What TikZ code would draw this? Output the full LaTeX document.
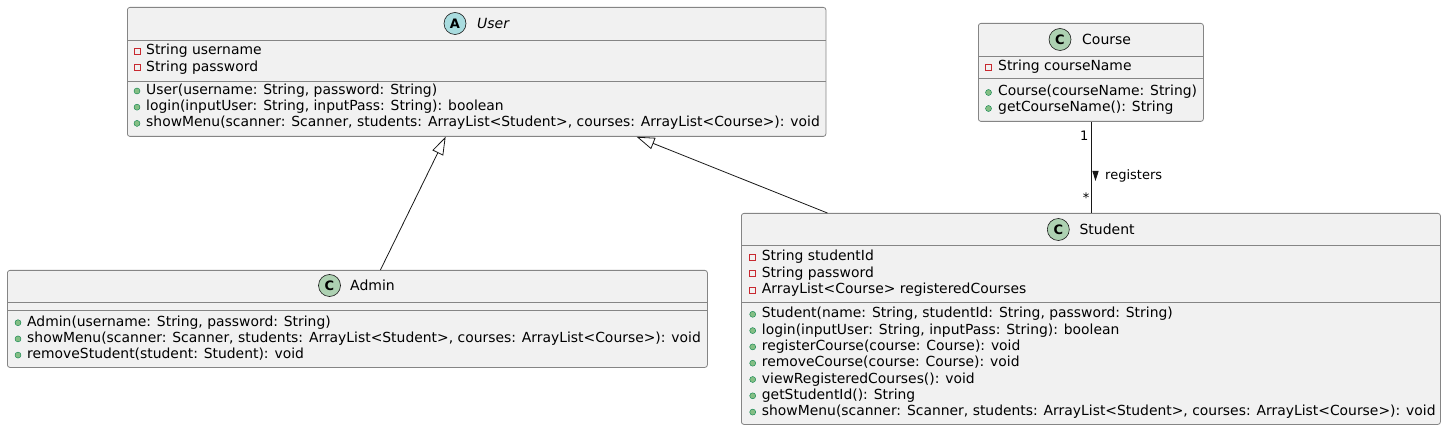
\documentclass[tikz,border=0pt]{standalone}
\usepackage{fontspec}
\setmainfont{DejaVu Sans}
\usetikzlibrary{arrows.meta}

\definecolor{boxfill}{HTML}{F1F1F1}
\definecolor{boxline}{HTML}{181818}
\definecolor{edgegray}{HTML}{858585}
\definecolor{cgreen}{HTML}{ADD1B2}
\definecolor{acyan}{HTML}{A9DCDF}
\definecolor{privred}{HTML}{C82930}
\definecolor{pubfill}{HTML}{84BE84}
\definecolor{publine}{HTML}{038048}

\begin{document}
\begin{tikzpicture}[x=1pt, y=-1pt,
    box/.style={draw=edgegray, fill=boxfill, line width=0.8pt, rounded corners=2.5pt, anchor=north west, inner sep=0},
    sep/.style={draw=edgegray, line width=0.8pt},
    badge/.style={circle, draw=boxline, line width=0.6pt, minimum size=22pt, inner sep=0, font=\fontsize{13}{13}\selectfont\bfseries},
    cname/.style={anchor=west, inner sep=0, font=\fontsize{14}{14}\selectfont},
    member/.style={anchor=west, inner sep=0, text height=10pt, text depth=3pt, font=\fontsize{13.9}{14}\selectfont},
    priv/.style={rectangle, draw=privred, line width=0.6pt, minimum size=6pt, inner sep=0},
    pub/.style={circle, draw=publine, fill=pubfill, line width=0.4pt, minimum size=6pt, inner sep=0},
    mult/.style={inner sep=0, font=\fontsize{13}{13}\selectfont},
    link/.style={draw=boxline, line width=0.8pt},
    gen/.style={link, -{Triangle[open, length=18pt, width=12pt]}}]

\useasboundingbox (0,0) rectangle (1446,430);

% User (abstract)
\node[box, minimum width=698.5, minimum height=129] (User) at (127,7) {};
\node[badge, fill=acyan] (UserBadge) at (455,23.5) {A};
\node[cname, font=\fontsize{14}{14}\selectfont\itshape] (UserName) at (477,23.5) {User};
\draw[sep] (127,40) -- (825.5,40);
\draw[sep] (127,81) -- (825.5,81);
\foreach \t [count=\i from 0] in {String username, String password}
{
    \node[priv] (uav\i) at (137,51.5+16.2*\i) {};
    \node[member] (ua\i) at (146,51.5+16.2*\i) {\t};
}
\foreach \t [count=\i from 0] in {{User(username: String, password: String)},
    {login(inputUser: String, inputPass: String): boolean},
    {showMenu(scanner: Scanner, students: ArrayList<Student>, courses: ArrayList<Course>): void}}
{
    \node[pub] (umv\i) at (137,91+16.2*\i) {};
    \node[member] (um\i) at (146,91+16.2*\i) {\t};
}

% Admin
\node[box, minimum width=700, minimum height=97] (Admin) at (7,270) {};
\node[badge, fill=cgreen] (AdminBadge) at (329.5,285.5) {C};
\node[cname] (AdminName) at (350,285.5) {Admin};
\draw[sep] (7,302) -- (707,302);
\draw[sep] (7,310.5) -- (707,310.5);
\foreach \t [count=\i from 0] in {{Admin(username: String, password: String)},
    {showMenu(scanner: Scanner, students: ArrayList<Student>, courses: ArrayList<Course>): void},
    {removeStudent(student: Student): void}}
{
    \node[pub] (amv\i) at (18,322.7+16.2*\i) {};
    \node[member] (am\i) at (27,322.7+16.2*\i) {\t};
}

% Course
\node[box, minimum width=225, minimum height=98] (Course) at (978,23) {};
\node[badge, fill=cgreen] (CourseBadge) at (1060,39.5) {C};
\node[cname] (CourseName) at (1082,39.5) {Course};
\draw[sep] (978,56) -- (1203,56);
\draw[sep] (978,78.5) -- (1203,78.5);
\node[priv] (cav0) at (988.5,67.3) {};
\node[member] (ca0) at (998,67.3) {String courseName};
\foreach \t [count=\i from 0] in {{Course(courseName: String)}, {getCourseName(): String}}
{
    \node[pub] (cmv\i) at (988.5,92.5+16*\i) {};
    \node[member] (cm\i) at (998,92.5+16*\i) {\t};
}

% Student
\node[box, minimum width=699, minimum height=211] (Student) at (741,213) {};
\node[badge, fill=cgreen] (StudentBadge) at (1058.3,229.5) {C};
\node[cname] (StudentName) at (1079.3,229.5) {Student};
\draw[sep] (741,245.7) -- (1440,245.7);
\draw[sep] (741,302) -- (1440,302);
\foreach \t [count=\i from 0] in {String studentId, String password, ArrayList<Course> registeredCourses}
{
    \node[priv] (sav\i) at (752.7,257.5+16.3*\i) {};
    \node[member] (sa\i) at (761.7,257.5+16.3*\i) {\t};
}
\foreach \t [count=\i from 0] in {{Student(name: String, studentId: String, password: String)},
    {login(inputUser: String, inputPass: String): boolean},
    {registerCourse(course: Course): void},
    {removeCourse(course: Course): void},
    {viewRegisteredCourses(): void},
    {getStudentId(): String},
    {showMenu(scanner: Scanner, students: ArrayList<Student>, courses: ArrayList<Course>): void}}
{
    \node[pub] (smv\i) at (752.7,314.3+16.3*\i) {};
    \node[member] (sm\i) at (761.7,314.3+16.3*\i) {\t};
}

% Draw the connectors between the classes
\draw[gen] ([xshift=23pt]Admin.north) -- ([xshift=-31pt]User.south);
\draw[gen] ([xshift=-263.5pt]Student.north) -- ([xshift=160pt]User.south);
\draw[link] (Course.south) -- (Student.north);
\node[mult, anchor=base east] (one) at (1088.5,140.3) {1};
\node[mult, anchor=base east] (many) at (1089.5,203) {*};
\node[mult, anchor=base west] (reg) at (1105,180) {registers};
\fill[boxline] (1092.3,171) -- (1098.7,171) -- (1095.5,181) -- cycle;
\end{tikzpicture}
\end{document}
